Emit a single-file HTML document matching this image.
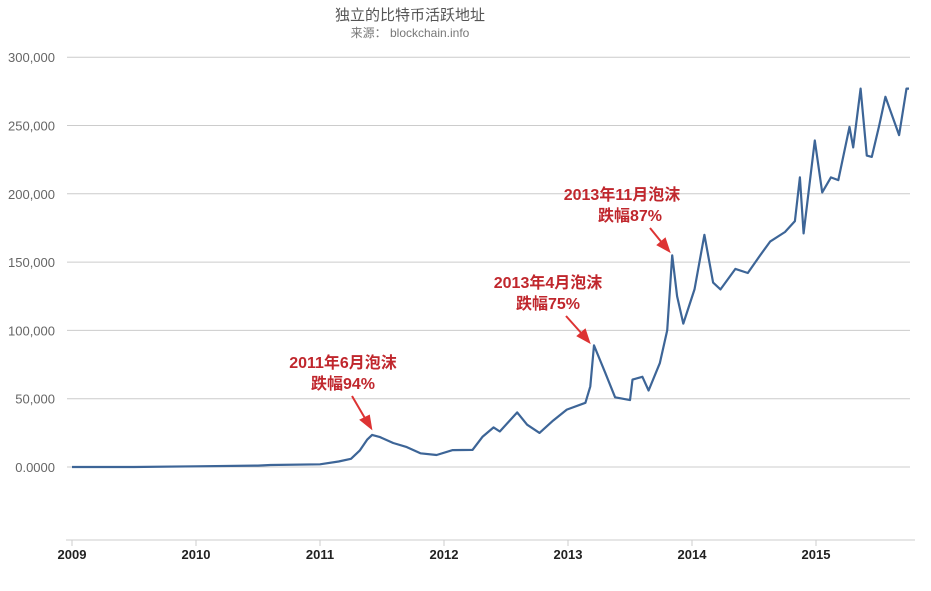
<!DOCTYPE html>
<html><head><meta charset="utf-8"><style>
body{margin:0;background:#fff;width:931px;height:586px;overflow:hidden}
text{font-family:"Liberation Sans","Noto Sans CJK SC",sans-serif}
</style></head><body>
<svg width="931" height="586">
<text x="410" y="20" text-anchor="middle" font-size="15" fill="#555">独立的比特币活跃地址</text>
<text x="410" y="37" text-anchor="middle" font-size="12" fill="#777">来源： blockchain.info</text>
<g id="grid"></g><g id="xaxis"></g>
<path id="line" fill="none" stroke="#3d6597" stroke-width="2.2" stroke-linejoin="round"/>
<g fill="#c0272d" font-weight="bold" font-size="16" text-anchor="middle">
<text x="343" y="368">2011年6月泡沫</text>
<text x="343" y="389">跌幅94%</text>
<text x="548" y="288">2013年4月泡沫</text>
<text x="548" y="309">跌幅75%</text>
<text x="622" y="200">2013年11月泡沫</text>
<text x="630" y="221">跌幅87%</text>
</g>
<g stroke="#d33" stroke-width="2" fill="#d33">
<line x1="352" y1="396" x2="366" y2="420"/><polygon points="371,428 361,420 369,416"/>
<line x1="566" y1="316" x2="583" y2="335"/><polygon points="589,342 578,336 585,330"/>
<line x1="650" y1="228" x2="663" y2="244"/><polygon points="669,251 658,245 665,239"/>
</g>
</svg>
<script>
const yTicks=[0,50000,100000,150000,200000,250000,300000];
const yLabels=["0.0000","50,000","100,000","150,000","200,000","250,000","300,000"];
const xYears=[2009,2010,2011,2012,2013,2014,2015];
const dates=[2009.0,2009.5,2010.0,2010.5,2010.6,2011.0,2011.15,2011.25,2011.32,2011.38,2011.42,2011.48,2011.59,2011.70,2011.81,2011.94,2012.07,2012.23,2012.31,2012.40,2012.45,2012.59,2012.67,2012.77,2012.88,2012.99,2013.14,2013.18,2013.21,2013.26,2013.30,2013.38,2013.50,2013.52,2013.60,2013.65,2013.74,2013.80,2013.84,2013.88,2013.93,2014.02,2014.1,2014.17,2014.23,2014.35,2014.45,2014.55,2014.63,2014.75,2014.83,2014.87,2014.9,2014.99,2015.05,2015.12,2015.18,2015.27,2015.3,2015.36,2015.41,2015.45,2015.51,2015.56,2015.67,2015.73,2015.75];
const values=[0,0,500,1000,1500,2000,4000,6000,12000,20000,23500,22000,17600,14600,10000,8800,12400,12500,22000,29000,26000,40000,31000,25000,34000,42000,47000,59000,89000,78000,69000,51000,49000,64000,66000,56000,76000,100000,155000,125000,105000,130000,170000,135000,130000,145000,142000,155000,165000,172000,180000,212000,171000,239000,201000,212000,210000,249000,234000,277000,228000,227000,250000,271000,243000,277000,277000];
const X=t=>72+(t-2009)*124, Y=v=>467-v/50000*68.3;
const ns="http://www.w3.org/2000/svg";
const grid=document.getElementById('grid');
yTicks.forEach((v,i)=>{
 const l=document.createElementNS(ns,'line');
 l.setAttribute('x1',67);l.setAttribute('x2',910);l.setAttribute('y1',Y(v));l.setAttribute('y2',Y(v));
 l.setAttribute('stroke','#ccc');
 
 
 grid.appendChild(l);
 const t=document.createElementNS(ns,'text');
 t.setAttribute('x',55);t.setAttribute('y',Y(v)+5);t.setAttribute('text-anchor','end');t.setAttribute('font-size','13');t.setAttribute('fill','#666');
 t.textContent=yLabels[i];
 
 
 grid.appendChild(t);
});
const xa=document.getElementById('xaxis');
const ax=document.createElementNS(ns,'line');
ax.setAttribute('x1',66);ax.setAttribute('x2',915);ax.setAttribute('y1',540);ax.setAttribute('y2',540);ax.setAttribute('stroke','#ccc');


xa.appendChild(ax);
xYears.forEach(y=>{
 const tk=document.createElementNS(ns,'line');
 tk.setAttribute('x1',X(y));tk.setAttribute('x2',X(y));tk.setAttribute('y1',540);tk.setAttribute('y2',546);tk.setAttribute('stroke','#ccc');
 
 
 xa.appendChild(tk);
 const t=document.createElementNS(ns,'text');
 t.setAttribute('x',X(y));t.setAttribute('y',559);t.setAttribute('text-anchor','middle');t.setAttribute('font-size','13');t.setAttribute('font-weight','bold');t.setAttribute('fill','#222');
 t.textContent=y;
 
 
 xa.appendChild(t);
});
document.getElementById('line').setAttribute('d',dates.map((d,i)=>(i?'L':'M')+X(d).toFixed(1)+','+Y(values[i]).toFixed(1)).join(''));
</script>
</body></html>
